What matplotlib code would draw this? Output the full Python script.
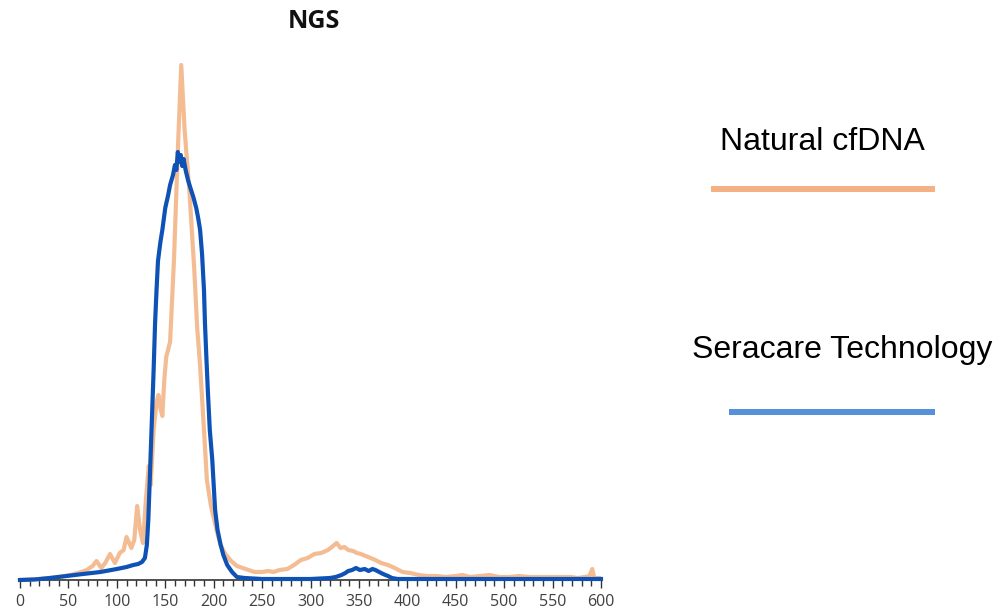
import numpy as np
import matplotlib.pyplot as plt
from matplotlib.lines import Line2D
from matplotlib.ticker import MultipleLocator

# fragment size (bp) vs relative read count
natural_x = [0, 20, 40, 52, 60, 69, 75, 79, 84, 88, 93, 98, 103, 107, 110, 115, 118,
             121, 124, 127, 130, 133, 135, 138, 141, 143, 145, 147, 149, 151, 155, 159,
             163, 166.5, 170, 175, 180, 183, 186, 190, 193, 197, 203, 207, 212, 218,
             224, 230, 236, 242, 250, 256, 262, 268, 276, 283, 290, 297, 304, 311, 318,
             322, 327, 331, 335, 339, 344, 348, 352, 357, 362, 367, 373, 380, 387, 395,
             403, 412, 420, 430, 440, 450, 457, 465, 475, 485, 495, 505, 515, 525, 533,
             545, 555, 562, 569, 576, 583, 588, 591, 593, 598]
natural_y = [0, 1, 3, 5, 7, 10, 14, 19, 12, 17, 26, 17, 27, 30, 43, 32, 40,
             74, 50, 37, 80, 114, 95, 150, 178, 185, 172, 164, 200, 223, 238, 320,
             430, 515, 450, 388, 310, 252, 214, 150, 100, 75, 50, 35, 26, 19,
             14, 12, 10, 8, 8, 9, 8, 10, 11, 15, 20, 22, 26, 27, 30,
             33, 37, 32, 33, 30, 29, 27, 26, 24, 22, 20, 17, 15, 12, 8,
             7, 5, 4, 4, 3, 4, 5, 3, 4, 5, 3, 3, 4, 3, 3,
             3, 3, 3, 3, 2, 3, 4, 11, 2, 2]

seracare_x = [0, 15, 31, 48, 65, 83, 100, 110, 117, 122, 126, 129, 131, 132.5, 134, 136,
              138, 139.5, 141, 142.5, 145, 147, 150, 153, 155, 158, 160, 161.5, 163, 164.5,
              166, 167.5, 169, 171, 173.5, 176, 179, 182, 184, 186, 188, 190, 191, 192.5,
              194, 196, 198.5, 201.5, 204, 207, 210, 214, 219, 224, 232, 250, 280, 300,
              320, 326, 332, 336, 339, 343, 347, 351, 356, 360, 364, 367, 371, 375, 380,
              384, 390, 395, 420, 450, 500, 550, 600]
seracare_y = [0, 0.5, 2, 4, 6, 8, 11, 13, 15, 16, 18, 22, 35, 60, 100, 155,
              210, 257, 290, 319, 338, 350, 372, 385, 395, 405, 415, 410, 428, 418,
              425, 414, 421, 410, 400, 392, 383, 372, 362, 350, 326, 290, 257, 222,
              189, 150, 121, 70, 50, 36, 25, 15, 8, 3, 2, 1, 1, 1,
              2, 3, 5, 7, 9, 10, 12, 10, 11, 9, 11, 10, 8, 6, 4,
              2, 1, 1, 1, 1, 1, 1, 1]

xticks = np.arange(0, 601, 50)

W, H = 997, 612
fig = plt.figure(figsize=(W / 100, H / 100), dpi=100)
ax = fig.add_axes([20 / W, 1 - 580 / H, 581 / W, 530 / H])

ax.plot(natural_x, natural_y, color='#f4bc92', lw=3, clip_on=False, zorder=2)
ax.plot(seracare_x, seracare_y, color='#0f52b5', lw=3, clip_on=False, zorder=3)

ax.set_xlim(0, 600)
ax.set_ylim(0, 530)
for s in ['top', 'right', 'left']:
    ax.spines[s].set_visible(False)
ax.spines['bottom'].set_color('#333333')
ax.spines['bottom'].set_linewidth(1.2)
ax.set_yticks([])
ax.set_xticks(xticks)
ax.xaxis.set_minor_locator(MultipleLocator(10))
ax.tick_params(axis='x', which='major', length=6, width=1, color='#333333',
               labelsize=11.5, labelcolor='#404040', pad=4)
ax.tick_params(axis='x', which='minor', length=4, width=1, color='#333333')
for lab in ax.get_xticklabels():
    lab.set_fontfamily('Open Sans')

fig.text(314 / W, 1 - 21 / H, 'NGS', ha='center', va='center',
         fontsize=18, fontweight='bold', family='Open Sans', color='#111111')

# legend drawn by hand: label above a line sample
fig.text(822 / W, 1 - 142 / H, 'Natural cfDNA', ha='center', va='center',
         fontsize=23, family='Liberation Sans')
fig.add_artist(Line2D([711 / W, 935 / W], [1 - 189 / H, 1 - 189 / H],
                      color='#f4b183', lw=4.3, solid_capstyle='butt',
                      transform=fig.transFigure))
fig.text(842 / W, 1 - 350 / H, 'Seracare Technology', ha='center', va='center',
         fontsize=23, family='Liberation Sans')
fig.add_artist(Line2D([729 / W, 935 / W], [1 - 412 / H, 1 - 412 / H],
                      color='#5590d8', lw=4.3, solid_capstyle='butt',
                      transform=fig.transFigure))

fig.savefig('out.png', dpi=100)
